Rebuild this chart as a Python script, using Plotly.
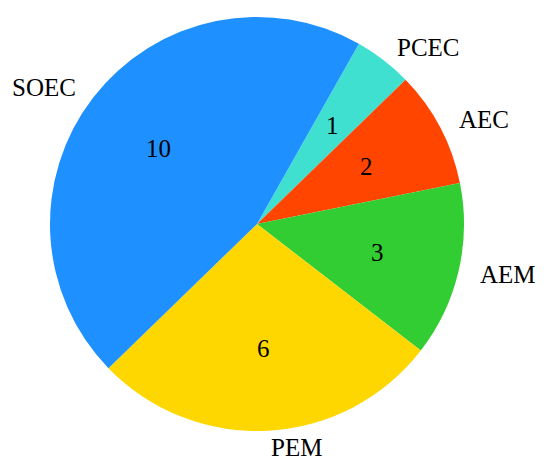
import math
import plotly.graph_objects as go

etiquetas = ['PCEC', 'AEC', 'AEM', 'PEM', 'SOEC']
valores = [1, 2, 3, 6, 10]
cores = ['#40E0D0', '#FF4500', '#32CD32', '#FFD700', '#1E90FF']

# a página tem 8px de margem no body: a figura ocupa 534x452 deslocada de 8px
W, H = 534, 452
cx, cy, R = 257 - 8, 224 - 8, 207
rotacao = 29.5
fonte = 'Liberation Serif'

fig = go.Figure()

fig.add_trace(go.Pie(
    labels=etiquetas,
    values=valores,
    marker=dict(colors=cores, line=dict(width=0)),
    sort=False,
    direction='clockwise',
    rotation=rotacao,
    textinfo='none',
    hoverinfo='label+value',
    domain=dict(x=[(cx - R) / W, (cx + R) / W],
                y=[1 - (cy + R) / H, 1 - (cy - R) / H]),
    showlegend=False
))

# rótulos fora (1.1 R) e valores dentro (0.6 R), no ângulo médio de cada fatia
total = sum(valores)
acumulado = 0
for nome, v in zip(etiquetas, valores):
    meio = math.radians(rotacao + (acumulado + v / 2) / total * 360)
    acumulado += v
    s, c = math.sin(meio), math.cos(meio)

    fig.add_annotation(
        x=(cx + 0.6 * R * s) / W, y=1 - (cy - 0.6 * R * c) / H,
        xref='paper', yref='paper', text=str(v), showarrow=False,
        xanchor='center', yanchor='middle', borderpad=0,
        font=dict(family=fonte, size=25, color='black')
    )
    fig.add_annotation(
        x=(cx + 1.1 * R * s) / W, y=1 - (cy - 1.08 * R * c) / H,
        xref='paper', yref='paper', text=nome, showarrow=False,
        xanchor='left' if s > 0 else 'right', yanchor='middle', borderpad=0,
        font=dict(family=fonte, size=25, color='black')
    )

fig.update_layout(
    width=W, height=H,
    margin=dict(l=0, r=0, t=0, b=0),
    paper_bgcolor='white',
    plot_bgcolor='white'
)

fig.write_html("out.html")
